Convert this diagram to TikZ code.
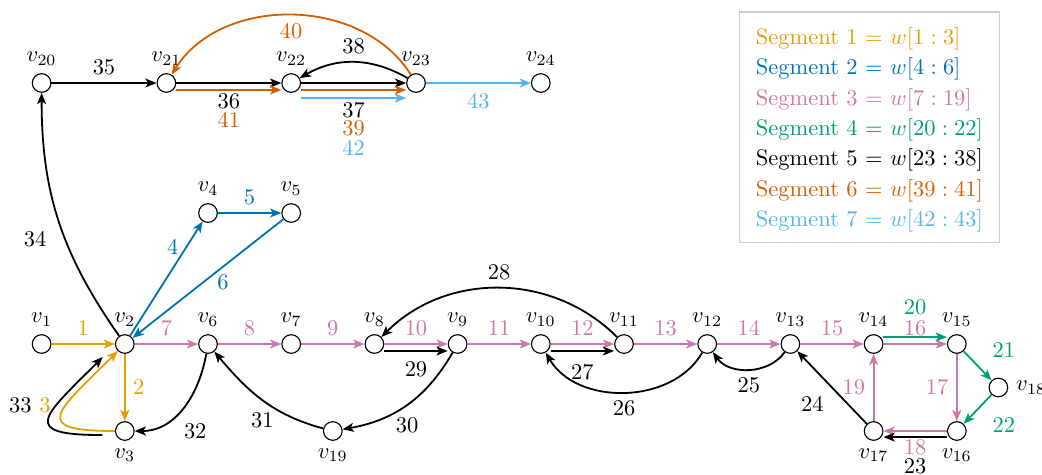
\documentclass[tikz,border=0pt]{standalone}
\usetikzlibrary{arrows.meta}
\definecolor{sone}{HTML}{E69F00}
\definecolor{stwo}{HTML}{0072B2}
\definecolor{sthree}{HTML}{CC79A7}
\definecolor{sfour}{HTML}{009E73}
\definecolor{sfive}{HTML}{000000}
\definecolor{ssix}{HTML}{D55E00}
\definecolor{sseven}{HTML}{56B4E9}
\begin{document}
\begin{tikzpicture}[x=0.445pt,y=-0.445pt,
  vtx/.style={circle,draw,line width=0.5pt,minimum size=8.3pt,inner sep=0pt},
  edge/.style={line width=0.8pt,-{Stealth[length=5pt,width=4pt,inset=1.3pt]}},
  eone/.style={edge,sone}, etwo/.style={edge,stwo}, ethree/.style={edge,sthree},
  efour/.style={edge,sfour}, efive/.style={edge,sfive}, esix/.style={edge,ssix},
  eseven/.style={edge,sseven},
  legendtext/.style={align=left,inner xsep=7pt,inner ysep=5.5pt,
    font=\fontsize{10pt}{13.5pt}\selectfont},
  legendframe/.style={draw=black!20,line width=0.5pt}]
\useasboundingbox (0,0) rectangle (1042,474);
% vertices
\node[vtx,label=above:$v_{1}$]  (v1)  at (41.6,344) {};
\node[vtx,label=above:$v_{2}$]  (v2)  at (124.8,344) {};
\node[vtx,label=below:$v_{3}$]  (v3)  at (124.8,431) {};
\node[vtx,label=above:$v_{4}$]  (v4)  at (208,213) {};
\node[vtx,label=above:$v_{5}$]  (v5)  at (291.2,213) {};
\node[vtx,label=above:$v_{6}$]  (v6)  at (208,344) {};
\node[vtx,label=above:$v_{7}$]  (v7)  at (291.2,344) {};
\node[vtx,label=above:$v_{8}$]  (v8)  at (374.4,344) {};
\node[vtx,label=above:$v_{9}$]  (v9)  at (457.6,344) {};
\node[vtx,label=above:$v_{10}$] (v10) at (540.8,344) {};
\node[vtx,label=above:$v_{11}$] (v11) at (624,344) {};
\node[vtx,label=above:$v_{12}$] (v12) at (707.2,344) {};
\node[vtx,label=above:$v_{13}$] (v13) at (790.4,344) {};
\node[vtx,label=above:$v_{14}$] (v14) at (873.6,344) {};
\node[vtx,label=above:$v_{15}$] (v15) at (956.8,344) {};
\node[vtx,label=below:$v_{16}$] (v16) at (956.8,431) {};
\node[vtx,label=below:$v_{17}$] (v17) at (873.6,431) {};
\node[vtx,label=right:$v_{18}$] (v18) at (998.4,387.5) {};
\node[vtx,label=below:$v_{19}$] (v19) at (332.8,431) {};
\node[vtx,label=above:$v_{20}$] (v20) at (41.6,83) {};
\node[vtx,label=above:$v_{21}$] (v21) at (166.4,83) {};
\node[vtx,label=above:$v_{22}$] (v22) at (291.2,83) {};
\node[vtx,label=above:$v_{23}$] (v23) at (416,83) {};
\node[vtx,label=above:$v_{24}$] (v24) at (540.8,83) {};
% segment 1
\draw[eone] (v1) -- node[above]{1} (v2);
\draw[eone] (v2) -- node[right]{2} (v3);
\draw[eone] (v3.west) to[out=180,in=225,looseness=2.75] node[pos=0.6,left=3pt]{3} (v2.225);
% segment 2
\draw[etwo] (v2) -- node[pos=0.78,left]{4} (v4);
\draw[etwo] (v4) -- node[above]{5} (v5);
\draw[etwo] (v5) -- node[pos=0.4,below]{6} (v2);
% segment 3
\draw[ethree] (v2) -- node[above]{7} (v6);
\draw[ethree] (v6) -- node[above]{8} (v7);
\draw[ethree] (v7) -- node[above]{9} (v8);
\draw[ethree] (v8) -- node[above]{10} (v9);
\draw[ethree] (v9) -- node[above]{11} (v10);
\draw[ethree] (v10) -- node[above]{12} (v11);
\draw[ethree] (v11) -- node[above]{13} (v12);
\draw[ethree] (v12) -- node[above]{14} (v13);
\draw[ethree] (v13) -- node[above]{15} (v14);
\draw[ethree] (v14) -- node[above]{16} (v15);
\draw[ethree] (v15) -- node[left]{17} (v16);
\draw[ethree] (v16) -- node[below]{18} (v17);
\draw[ethree] (v17) -- node[left]{19} (v14);
% segment 4
\draw[efour] ([yshift=3.1pt]v14.east) -- node[above=5.9pt]{20} ([yshift=3.1pt]v15.west);
\draw[efour] (v15) -- node[above right,xshift=3pt]{21} (v18);
\draw[efour] (v18) -- node[below right,xshift=3pt]{22} (v16);
% segment 5
\draw[efive] ([yshift=-2.7pt]v16.west) -- node[below=6pt]{23} ([yshift=-2.7pt]v17.east);
\draw[efive] (v17) -- node[below left]{24} (v13);
\draw[efive] (v13) to[bend left=55] node[below]{25} (v12);
\draw[efive] (v12) to[bend left=60] node[below]{26} (v10);
\draw[efive] ([yshift=-3.1pt]v10.east) -- node[below=2pt]{27} ([yshift=-3.1pt]v11.west);
\draw[efive] (v11) to[bend right=45] node[above]{28} (v8);
\draw[efive] ([yshift=-3.1pt]v8.east) -- node[below=1pt]{29} ([yshift=-3.1pt]v9.west);
\draw[efive] (v9) to[bend left=25] node[below=2pt]{30} (v19);
\draw[efive] (v19) to[out=165,in=-50] node[below=2pt]{31} (v6);
\draw[efive] (v6) to[out=-100,in=0] node[pos=0.6,below right]{32} (v3);
\draw[efive] ([xshift=-5.6pt,yshift=-1.8pt]v3.west) to[out=180,in=225,looseness=2.75]
   node[pos=0.6,left=5.7pt,yshift=2pt]{33} ([xshift=-6.7pt,yshift=-2.7pt]v2.225);
\draw[efive] (v2) to[out=125,in=-90] node[pos=0.42,left=4.7pt]{34} (v20);
\draw[efive] (v20) -- node[above]{35} (v21);
\draw[efive] (v21) -- node[below=1pt]{36} (v22);
\draw[efive] (v22) -- node[below=5pt]{37} (v23);
\draw[efive] (v23) to[bend right=30] node[above]{38} (v22);
% segment 6
\draw[esix] ([yshift=-3.1pt]v22.east) -- node[below=10pt]{39} ([yshift=-3.1pt]v23.west);
\draw[esix] (v23) to[bend right=58] node[below]{40} (v21);
\draw[esix] ([yshift=-3.1pt]v21.east) -- node[below=6.4pt]{41} ([yshift=-3.1pt]v22.west);
% segment 7
\draw[eseven] ([yshift=-6.7pt]v22.east) -- node[below=15pt]{42} ([yshift=-6.7pt]v23.west);
\draw[eseven] (v23) -- node[below=1pt]{43} (v24);
% legend
\node[legendtext] (legend) at (869.5,130) {%
\textcolor{sone}{Segment 1 $=$ $w[1:3]$}\\
\textcolor{stwo}{Segment 2 $=$ $w[4:6]$}\\
\textcolor{sthree}{Segment 3 $=$ $w[7:19]$}\\
\textcolor{sfour}{Segment 4 $=$ $w[20:22]$}\\
\textcolor{sfive}{Segment 5 $=$ $w[23:38]$}\\
\textcolor{ssix}{Segment 6 $=$ $w[39:41]$}\\
\textcolor{sseven}{Segment 7 $=$ $w[42:43]$}};
\draw[legendframe] ([yshift=1.3pt]legend.north west) rectangle ([yshift=1.3pt]legend.south east);
\end{tikzpicture}
\end{document}
